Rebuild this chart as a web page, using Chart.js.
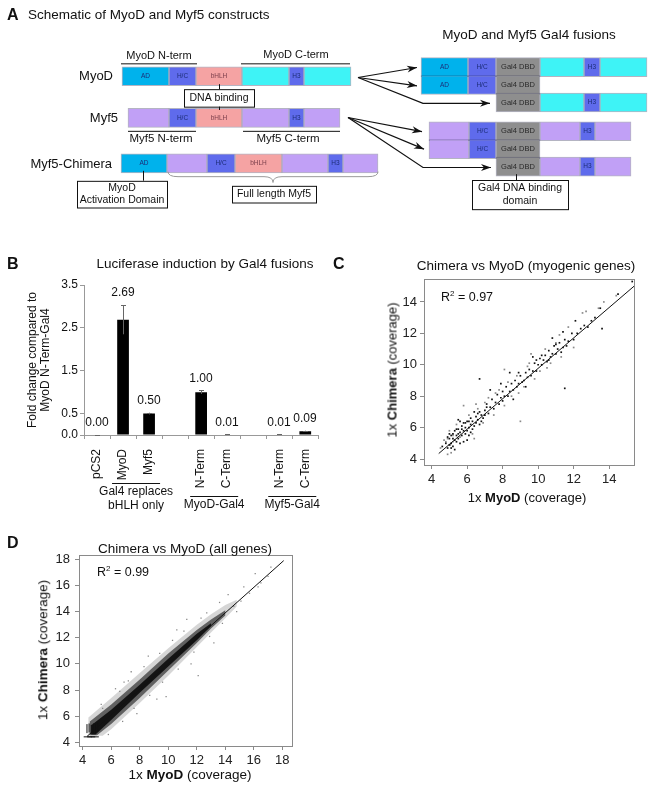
<!DOCTYPE html>
<html>
<head>
<meta charset="utf-8">
<script src="https://cdn.jsdelivr.net/npm/chart.js@4.4.1/dist/chart.umd.min.js"></script>
<style>
  body { margin: 0; background: #fff; }
  #page { position: relative; width: 653px; height: 791px; overflow: hidden;
          font-family: "Liberation Sans", Arial, sans-serif; color: #111; }
  canvas { position: absolute; }
  .t { position: absolute; white-space: nowrap; transform: translate(-50%, -50%); font-size: 13.5px; line-height: 1; }
  .rot { transform: translate(-50%, -50%) rotate(-90deg); }
  .left { position: absolute; white-space: nowrap; transform: translateY(-50%); line-height: 1; }
  .letter { font-size: 16px; font-weight: bold; }
  sup { font-size: 8px; vertical-align: 5px; }
</style>
</head>
<body>
<div id="page">
  <canvas id="schematic" width="653" height="240" style="left:0;top:0"></canvas>
  <canvas id="lucChart" width="330" height="270" style="left:0;top:250px"></canvas>
  <canvas id="myoChart" width="323" height="265" style="left:330px;top:250px"></canvas>
  <canvas id="allChart" width="330" height="261" style="left:0;top:530px"></canvas>

  <div class="left letter" style="left:7px;top:15px">A</div>
  <div class="left" style="left:28px;top:15px;font-size:13.5px">Schematic of MyoD and Myf5 constructs</div>
  <div class="t" style="left:529px;top:35px">MyoD and Myf5 Gal4 fusions</div>

  <div class="left letter" style="left:7px;top:264px">B</div>
  <div class="t" style="left:205px;top:264px">Luciferase induction by Gal4 fusions</div>

  <div class="left letter" style="left:333px;top:264px">C</div>
  <div class="t" style="left:526px;top:266px">Chimera vs MyoD (myogenic genes)</div>
  <div class="left" style="left:441px;top:297px;font-size:12.5px">R<sup>2</sup> = 0.97</div>
  <div class="t" style="left:527px;top:497px;font-size:13px">1x <b>MyoD</b> (coverage)</div>
  <div class="t rot" style="left:392px;top:370px;font-size:13px">1x <b>Chimera</b> (coverage)</div>

  <div class="left letter" style="left:7px;top:543px">D</div>
  <div class="t" style="left:185px;top:549px">Chimera vs MyoD (all genes)</div>
  <div class="left" style="left:97px;top:572px;font-size:12.5px">R<sup>2</sup> = 0.99</div>
  <div class="t" style="left:190px;top:775px">1x <b>MyoD</b> (coverage)</div>
  <div class="t rot" style="left:43px;top:650px">1x <b>Chimera</b> (coverage)</div>
</div>

<script>
/* ================= DATA ================= */

// A: construct domains, [kind, length]
const myodParts    = [["AD", 47], ["H/C", 27], ["bHLH", 46], ["myodC", 47], ["H3", 15], ["myodC", 47]];
const myf5Parts    = [["myf5", 41], ["H/C", 27], ["bHLH", 46], ["myf5", 47], ["H3", 15], ["myf5", 36]];
const chimeraParts = [["AD", 46], ["myf5", 40], ["H/C", 28], ["bHLH", 47], ["myf5", 46], ["H3", 15], ["myf5", 35]];
const myodFullGal4 = [["AD", 47], ["H/C", 28], ["Gal4", 44], ["myodC", 44], ["H3", 16], ["myodC", 47]];
const myodNGal4    = [["AD", 47], ["H/C", 28], ["Gal4", 44]];
const myodCGal4    = [["Gal4", 44], ["myodC", 44], ["H3", 16], ["myodC", 47]];
const myf5FullGal4 = [["myf5", 40], ["H/C", 27], ["Gal4", 44], ["myf5", 40], ["H3", 15], ["myf5", 36]];
const myf5NGal4    = [["myf5", 40], ["H/C", 27], ["Gal4", 44]];
const myf5CGal4    = [["Gal4", 44], ["myf5", 40], ["H3", 15], ["myf5", 36]];

// B: luciferase induction
const lucLabels = ["pCS2", "MyoD", "Myf5", "", "N-Term", "C-Term", "", "N-Term", "C-Term"];
const lucValues = [0.00, 2.69, 0.50, null, 1.00, 0.01, null, 0.01, 0.09];
const lucErrors = [0.00, 0.34, 0.02, null, 0.04, 0.005, null, 0.005, 0.01];
const lucTicks = [0, 0.5, 1.5, 2.5, 3.5];
const lucYTitle = ["Fold change compared to", "MyoD N-Term-Gal4"];
const lucGroups = [["Gal4 replaces", "bHLH only"], ["MyoD-Gal4"], ["Myf5-Gal4"]];
const lucGroupRanges = [[1, 2], [4, 5], [7, 8]];

// C: myogenic genes, coverage MyoD vs Chimera
const myoTicks = [4, 6, 8, 10, 12, 14];
const myogenicFit = [[4.4, 4.35], [15.4, 15.0]];
const myogenicDark = [
  [4.6,4.8],[4.8,5.0],[4.9,4.7],[5.0,5.3],[5.0,4.9],[5.1,5.5],[5.1,5.0],[5.2,4.8],[5.2,5.6],[5.3,5.2],
  [5.3,5.8],[5.4,5.1],[5.4,5.5],[5.5,5.9],[5.5,5.3],[5.6,5.7],[5.6,5.0],[5.7,6.1],[5.7,5.5],[5.8,5.8],
  [5.8,6.3],[5.9,5.6],[5.9,6.0],[6.0,5.8],[6.0,6.4],[6.1,6.0],[6.1,5.5],[6.2,6.2],[6.2,6.6],[6.3,5.9],
  [6.3,6.4],[6.4,6.1],[6.5,6.7],[6.5,6.3],[6.6,6.5],[6.7,7.0],[6.7,6.2],[6.8,6.8],[6.9,6.6],[7.0,7.1],
  [7.0,6.8],[5.0,5.6],[5.3,4.6],[5.6,6.4],[6.0,5.2],[4.9,5.4],[5.5,6.5],[5.8,5.1],[6.4,7.0],[6.2,5.7],
  [5.2,5.3],[5.4,5.9],[5.7,5.9],[5.9,6.3],[6.1,6.4],[5.1,4.7],[5.5,5.6],[6.6,6.9],[6.8,6.4],[7.1,7.3],
  [7.1,7.5],[7.2,6.9],[7.3,7.3],[7.4,7.8],[7.5,7.2],[7.6,7.6],[7.7,8.1],[7.8,7.5],[7.9,7.9],[8.0,8.3],
  [8.0,7.7],[8.1,8.0],[8.2,8.6],[8.3,8.0],[8.4,8.3],[8.5,8.8],[8.6,8.4],[8.7,9.0],[8.8,8.6],[8.9,8.8],
  [9.0,9.3],[9.1,8.9],[9.2,9.0],[9.3,9.5],[9.4,9.2],[9.5,9.7],[9.6,9.3],[9.7,9.6],[9.8,10.1],[9.9,9.6],
  [10.0,10.0],[10.1,10.4],[10.2,10.0],[10.3,10.3],[7.3,8.4],[7.9,8.8],[8.4,9.5],[8.6,7.8],[9.3,8.6],[9.7,10.5],
  [10.4,10.6],[10.5,10.2],[10.6,10.9],[10.7,10.5],[10.8,10.7],[10.9,11.2],[11.0,10.7],[11.1,11.0],[11.2,11.4],[11.3,10.8],
  [11.4,11.1],[11.5,11.6],[11.6,11.2],[11.7,11.5],[11.9,12.0],[12.0,11.6],[12.2,12.0],[12.4,12.3],[12.6,12.5],[12.8,12.4],
  [13.0,12.8],[13.2,13.0],[13.6,12.3],[13.5,13.6],[14.5,14.5],[15.3,15.3],[11.5,8.5],[6.7,9.1],[10.8,11.7],[11.4,12.1],
  [12.1,12.8],[10.2,10.6],[10.6,10.3],[11.0,11.3],[8.9,9.5],[9.9,10.3]
];
const myogenicGrey = [
  [4.7,5.2],[5.0,5.8],[5.2,5.1],[5.4,6.2],[5.6,5.4],[5.8,7.4],[6.1,6.8],[6.3,5.6],[6.6,7.2],[6.9,6.3],
  [7.2,7.9],[7.5,6.8],[7.8,8.4],[8.1,7.4],[8.3,8.9],[8.5,8.0],[8.8,9.3],[9.0,6.4],[9.2,8.6],[9.5,10.1],
  [9.8,9.1],[10.1,9.6],[10.4,11.0],[10.7,10.1],[11.0,11.4],[11.3,10.5],[11.7,12.4],[12.0,11.1],[12.5,13.3],[12.7,13.4],
  [13.4,13.6],[14.4,14.4],[8.1,9.7],[9.6,10.7],[7.0,7.6],[4.5,4.7],[4.9,4.3],[5.1,4.4],[6.4,5.3],[8.9,8.2],
  [4.8,5.1],[4.9,5.3],[5.05,4.9],[5.2,5.5],[6.5,7.5],[7.6,8.2],[9.4,9.9],[10.5,9.8],[11.2,11.9],[13.7,14.0]
];

// D: all genes, coverage MyoD vs Chimera
const allTicks = [4, 6, 8, 10, 12, 14, 16, 18];
const allGenesFit = [[4.3, 4.45], [18.1, 17.9]];
const allGenesHalo = [
  [4.4,5.9],[6,7.4],[8,9.3],[10,11.2],[12,13.0],[13,13.8],[14,14.5],[14.8,14.9],
  [14.8,14.4],[14,13.5],[13,12.4],[12,11.3],[10,9.1],[8,7.0],[6,5.0],[5.4,4.5],[4.4,4.5]
];
const allGenesMid = [
  [4.5,5.6],[6,6.9],[8,8.8],[10,10.8],[12,12.6],[13,13.4],[14,14.1],
  [14,13.7],[13,12.7],[12,11.6],[10,9.5],[8,7.4],[6,5.4],[5.0,4.55],[4.5,4.55]
];
const allGenesCore = [
  [4.6,5.3],[6,6.5],[8,8.4],[10,10.4],[12,12.3],[13,13.1],
  [13,12.9],[12,11.8],[10,9.8],[8,7.8],[6,5.7],[4.9,4.6],[4.6,4.6]
];
const allGenesStray = [
  [6.3,8.1],[6.9,8.6],[7.4,9.4],[8.6,10.6],[9.2,7.3],[9.85,7.5],[12.1,9.1],[11.3,13.4],[13.2,11.6],[14.2,15.3],
  [14.8,14.0],[15.3,15.9],[16.1,16.9],[16.5,16.2],[17.2,17.4],[5.3,6.9],[5.8,4.6],[7.8,6.2],[10.6,12.6],[11.6,10.0],
  [13.6,14.7],[12.7,13.9],[14.6,14.4],[15.1,14.8],[15.7,15.4],[16.3,15.9],[17.0,16.7],
  [5.4,6.6],[6.6,7.9],[7.2,8.7],[8.3,9.8],[9.4,10.8],[10.3,11.8],[11.1,12.5],[12.3,13.5],
  [6.8,5.6],[7.6,6.6],[8.7,7.6],[9.6,8.6],[10.7,9.6],[11.8,10.9],[12.9,12.1],[13.8,13.1]
];
const lowCoverageStrokes = [[4.3,5.05],[4.45,5.1],[4.6,5.0],[4.75,5.1],[4.9,5.05],[5.05,5.15]];
const lowCoverageDashes = [[4.35,4.42],[4.6,4.42],[4.85,4.42]];

/* ================= SHARED ================= */

const fontStack = '"Liberation Sans", Arial, sans-serif';
Chart.defaults.font.family = fontStack;
Chart.defaults.color = "#222";
Chart.defaults.animation = false;

const xy = arr => arr.map(([x, y]) => ({ x, y }));

/* ================= A: SCHEMATIC ================= */

const domainStyles = {
  "AD":    { bg: "#00b2ec", label: "AD", text: "#1c2d78", size: 6.5 },
  "H/C":   { bg: "#5f6bec", label: "H/C", text: "#1c2d78", size: 6.5 },
  "bHLH":  { bg: "#f5a3a3", label: "bHLH", text: "#7b3f4c", size: 6.5 },
  "H3":    { bg: "#5f6bec", label: "H3", text: "#1c2d78", size: 6.5 },
  "myodC": { bg: "#3ef3f6" },
  "myf5":  { bg: "#c1a0f6" },
  "Gal4":  { bg: "#8e8e8e", label: "Gal4 DBD", text: "#2a2a2a", size: 7.5 }
};

const rows = [
  { parts: myodParts, x0: 122, y: 67.5 },
  { parts: myf5Parts, x0: 128, y: 117.5 },
  { parts: chimeraParts, x0: 121, y: 172 },
  { parts: myodFullGal4, x0: 421, y: 56.5 },
  { parts: myodNGal4, x0: 421, y: 78 },
  { parts: myodCGal4, x0: 496, y: 99 },
  { parts: myf5FullGal4, x0: 429, y: 133.5 },
  { parts: myf5NGal4, x0: 429, y: 155 },
  { parts: myf5CGal4, x0: 496, y: 176 }
];

const segments = [];
rows.forEach(row => {
  let x = row.x0;
  row.parts.forEach(([kind, len]) => {
    segments.push({ x: [x, x + len], y: row.y, kind });
    x += len;
  });
});

function arrow(ctx, pts) {
  ctx.beginPath();
  ctx.moveTo(pts[0][0], pts[0][1]);
  for (let i = 1; i < pts.length; i++) ctx.lineTo(pts[i][0], pts[i][1]);
  ctx.stroke();
  const [x1, y1] = pts[pts.length - 2];
  const [x2, y2] = pts[pts.length - 1];
  const a = Math.atan2(y2 - y1, x2 - x1);
  const c = Math.cos(a), s = Math.sin(a);
  ctx.beginPath();
  ctx.moveTo(x2, y2);
  ctx.lineTo(x2 - 10 * c + 3.5 * s, y2 - 10 * s - 3.5 * c);
  ctx.lineTo(x2 - 7 * c, y2 - 7 * s);
  ctx.lineTo(x2 - 10 * c - 3.5 * s, y2 - 10 * s + 3.5 * c);
  ctx.closePath();
  ctx.fill();
}

function label(ctx, text, x, y, size, align) {
  ctx.font = size + "px " + fontStack;
  ctx.textAlign = align || "center";
  ctx.textBaseline = "middle";
  ctx.fillStyle = "#111";
  ctx.fillText(text, x, y);
}

function hline(ctx, x1, x2, y) {
  ctx.beginPath();
  ctx.moveTo(x1, y + 0.5);
  ctx.lineTo(x2, y + 0.5);
  ctx.stroke();
}

function vline(ctx, x, y1, y2) {
  ctx.beginPath();
  ctx.moveTo(x + 0.5, y1);
  ctx.lineTo(x + 0.5, y2);
  ctx.stroke();
}

function textBox(ctx, x1, y1, x2, y2, lines, size) {
  ctx.fillStyle = "#fff";
  ctx.fillRect(x1, y1, x2 - x1, y2 - y1);
  ctx.strokeRect(x1 + 0.5, y1 + 0.5, x2 - x1, y2 - y1);
  const cy = (y1 + y2) / 2;
  const lh = size + 2;
  lines.forEach((t, i) => label(ctx, t, (x1 + x2) / 2, cy + (i - (lines.length - 1) / 2) * lh, size));
}

const schematicExtras = {
  id: "schematicExtras",
  afterDatasetsDraw(chart) {
    const { ctx } = chart;
    const meta = chart.getDatasetMeta(0);
    const sx = v => chart.scales.x.getPixelForValue(v);
    const sy = v => chart.scales.y.getPixelForValue(v);
    ctx.save();

    // domain names inside the bars
    meta.data.forEach((bar, i) => {
      const st = domainStyles[segments[i].kind];
      if (!st.label) return;
      const p = bar.getProps(["x", "base", "y"], true);
      ctx.font = st.size + "px " + fontStack;
      ctx.textAlign = "center";
      ctx.textBaseline = "middle";
      ctx.fillStyle = st.text;
      ctx.fillText(st.label, (p.x + p.base) / 2, p.y);
    });

    // construct names
    label(ctx, "MyoD", sx(113), sy(68), 13, "right");
    label(ctx, "Myf5", sx(118), sy(118), 13, "right");
    label(ctx, "Myf5-Chimera", sx(112), sy(173), 13, "right");

    ctx.strokeStyle = "#111";
    ctx.lineWidth = 1;

    // N-term / C-term brackets
    label(ctx, "MyoD N-term", sx(159), sy(43), 11);
    hline(ctx, sx(121), sx(197), sy(52));
    label(ctx, "MyoD C-term", sx(296), sy(42), 11);
    hline(ctx, sx(241), sx(350), sy(52));
    label(ctx, "Myf5 N-term", sx(161), sy(142), 11.5);
    hline(ctx, sx(128), sx(196), sy(133));
    label(ctx, "Myf5 C-term", sx(288), sy(142), 11.5);
    hline(ctx, sx(243), sx(340), sy(133));

    // DNA binding callout
    vline(ctx, sx(219), sy(77), sy(108));
    textBox(ctx, sx(184), sy(83), sx(254), sy(104), ["DNA binding"], 10.5);

    // activation domain callout
    vline(ctx, sx(143), sy(181), sy(193));
    textBox(ctx, sx(77), sy(193), sx(167), sy(225), ["MyoD", "Activation Domain"], 10.5);

    // brace under full length Myf5
    ctx.strokeStyle = "#999";
    ctx.beginPath();
    ctx.moveTo(sx(168), sy(182));
    ctx.quadraticCurveTo(sx(168), sy(188), sx(178), sy(188));
    ctx.lineTo(sx(264), sy(188));
    ctx.quadraticCurveTo(sx(273), sy(188), sx(273), sy(195));
    ctx.quadraticCurveTo(sx(273), sy(188), sx(282), sy(188));
    ctx.lineTo(sx(368), sy(188));
    ctx.quadraticCurveTo(sx(378), sy(188), sx(378), sy(182));
    ctx.stroke();
    ctx.strokeStyle = "#111";
    textBox(ctx, sx(232), sy(199), sx(316), sy(219), ["Full length Myf5"], 10.5);

    // Gal4 DNA binding domain callout
    vline(ctx, sx(516), sy(185), sy(192));
    textBox(ctx, sx(472), sy(192), sx(568), sy(227), ["Gal4 DNA binding", "domain"], 10.5);

    // arrows to the fusions
    ctx.fillStyle = "#111";
    ctx.lineWidth = 1.2;
    arrow(ctx, [[sx(358), sy(69)], [sx(417), sy(57)]]);
    arrow(ctx, [[sx(358), sy(69)], [sx(417), sy(79)]]);
    arrow(ctx, [[sx(358), sy(69)], [sx(423), sy(100)], [sx(490), sy(100)]]);
    arrow(ctx, [[sx(348), sy(117)], [sx(422), sy(134)]]);
    arrow(ctx, [[sx(348), sy(117)], [sx(424), sy(155)]]);
    arrow(ctx, [[sx(348), sy(117)], [sx(423), sy(177)], [sx(491), sy(177)]]);

    ctx.restore();
  }
};

new Chart(document.getElementById("schematic"), {
  type: "bar",
  data: {
    datasets: [{
      data: segments,
      backgroundColor: segments.map(s => domainStyles[s.kind].bg),
      borderColor: "rgba(40,40,80,0.35)",
      borderWidth: 1,
      borderSkipped: false,
      barThickness: 19
    }]
  },
  options: {
    indexAxis: "y",
    responsive: false,
    events: [],
    layout: { padding: 0, autoPadding: false },
    plugins: { legend: { display: false }, tooltip: { enabled: false } },
    scales: {
      x: { type: "linear", min: 0, max: 653, display: false },
      y: { type: "linear", min: 0, max: 240, reverse: true, display: false }
    }
  },
  plugins: [schematicExtras]
});

/* ================= B: LUCIFERASE ================= */

const lucExtras = {
  id: "lucExtras",
  afterDatasetsDraw(chart) {
    const { ctx, chartArea } = chart;
    const x = chart.scales.x, y = chart.scales.y;
    const meta = chart.getDatasetMeta(0);
    ctx.save();
    lucValues.forEach((v, i) => {
      if (v === null) return;
      const px = Math.round(meta.data[i].x);
      const top = y.getPixelForValue(v + lucErrors[i]);
      const bot = y.getPixelForValue(Math.max(0, v - lucErrors[i]));
      ctx.strokeStyle = "#666";
      ctx.lineWidth = 1;
      ctx.beginPath();
      ctx.moveTo(px + 0.5, top);
      ctx.lineTo(px + 0.5, bot);
      ctx.moveTo(px - 2, Math.round(top) + 0.5);
      ctx.lineTo(px + 3, Math.round(top) + 0.5);
      ctx.stroke();
      label(ctx, v.toFixed(2), px, top - 12, 12);
    });

    // group brackets under the category labels
    ctx.strokeStyle = "#111";
    ctx.lineWidth = 1;
    lucGroupRanges.forEach(([a, b], g) => {
      const x1 = x.getPixelForValue(a) - 11;
      const x2 = x.getPixelForValue(b) + 11;
      const ly = chartArea.bottom + (g === 0 ? 48 : 61);
      hline(ctx, x1, x2, ly);
      lucGroups[g].forEach((t, k) => label(ctx, t, (x1 + x2) / 2, ly + 9 + k * 14, 12));
    });
    ctx.restore();
  }
};

new Chart(document.getElementById("lucChart"), {
  type: "bar",
  data: {
    labels: lucLabels,
    datasets: [{
      data: lucValues,
      backgroundColor: "#000",
      categoryPercentage: 1,
      barPercentage: 0.45
    }]
  },
  options: {
    responsive: false,
    events: [],
    layout: { autoPadding: false, padding: { left: 0, top: 35, right: 6, bottom: 0 } },
    plugins: { legend: { display: false }, tooltip: { enabled: false } },
    scales: {
      x: {
        grid: { drawOnChartArea: false, tickLength: 4, color: "#999", offset: true },
        border: { color: "#999" },
        ticks: { minRotation: 90, maxRotation: 90, autoSkip: false, font: { size: 12 }, color: "#111", padding: 10 },
        afterFit: s => { s.height = 85; }
      },
      y: {
        min: 0,
        max: 3.5,
        afterBuildTicks: s => { s.ticks = lucTicks.map(v => ({ value: v })); },
        grid: { drawOnChartArea: false, tickLength: 4, color: "#999" },
        border: { color: "#999" },
        ticks: { callback: v => v.toFixed(1), font: { size: 12 }, color: "#111", padding: 2 },
        title: {
          display: true,
          text: lucYTitle,
          font: { size: 12, lineHeight: 1.1 },
          color: "#111",
          padding: { top: 26, bottom: 0 }
        },
        afterFit: s => { s.width = 84; }
      }
    }
  },
  plugins: [lucExtras]
});

/* ================= C + D: COVERAGE SCATTERS ================= */

const frame = {
  id: "frame",
  afterDraw(chart) {
    const { ctx, chartArea: a } = chart;
    ctx.save();
    ctx.strokeStyle = "#8a8a8a";
    ctx.lineWidth = 1;
    ctx.strokeRect(Math.round(a.left) + 0.5, Math.round(a.top) + 0.5,
      Math.round(a.right - a.left), Math.round(a.bottom - a.top));
    ctx.restore();
  }
};

function coverageAxis(min, max, ticks, isX, size, pad) {
  return {
    type: "linear",
    min,
    max,
    afterBuildTicks: s => { s.ticks = ticks.map(v => ({ value: v })); },
    grid: { drawOnChartArea: false, tickLength: 4, color: "#8a8a8a" },
    border: { display: false },
    ticks: { font: { size: 13 }, color: "#222", padding: pad },
    afterFit: s => { if (isX) s.height = size; else s.width = size; }
  };
}

function coverageOptions(xr, yr, ticks, yWidth, xHeight, top, right, yPad) {
  return {
    responsive: false,
    events: [],
    layout: { autoPadding: false, padding: { left: 0, top, right, bottom: 0 } },
    plugins: { legend: { display: false }, tooltip: { enabled: false } },
    scales: {
      x: coverageAxis(xr[0], xr[1], ticks, true, xHeight, 3),
      y: coverageAxis(yr[0], yr[1], ticks, false, yWidth, yPad)
    }
  };
}

const fitLine = data => ({
  type: "line", data: xy(data), borderColor: "#111", borderWidth: 1,
  pointRadius: 0, fill: false, tension: 0
});
const dots = (data, color, r) => ({
  type: "scatter", data: xy(data), pointStyle: "rect", pointRadius: r,
  backgroundColor: color, borderWidth: 0
});
const band = (data, color) => ({
  type: "line", data: xy(data), fill: "shape", backgroundColor: color,
  borderWidth: 0, borderColor: "rgba(0,0,0,0)", pointRadius: 0, tension: 0
});

new Chart(document.getElementById("myoChart"), {
  type: "scatter",
  data: {
    datasets: [
      fitLine(myogenicFit),
      dots(myogenicDark, "#111", 1.2),
      dots(myogenicGrey, "#8a8a8a", 1.2)
    ]
  },
  options: coverageOptions([3.57, 15.4], [3.62, 15.46], myoTicks, 94, 50, 29, 19, 3),
  plugins: [frame]
});

new Chart(document.getElementById("allChart"), {
  type: "scatter",
  data: {
    datasets: [
      fitLine(allGenesFit),
      {
        type: "scatter", data: xy(lowCoverageStrokes), pointStyle: "line", rotation: 90,
        pointRadius: 4.5, borderColor: "#111", borderWidth: 1
      },
      {
        type: "scatter", data: xy(lowCoverageDashes), pointStyle: "line", rotation: 0,
        pointRadius: 4, borderColor: "#111", borderWidth: 1
      },
      dots(allGenesStray, "#888", 0.9),
      band(allGenesCore, "rgba(0,0,0,0.8)"),
      band(allGenesMid, "rgba(0,0,0,0.55)"),
      band(allGenesHalo, "rgba(0,0,0,0.16)")
    ]
  },
  options: coverageOptions([3.74, 18.68], [3.72, 18.33], allTicks, 79, 45, 25, 38, 5),
  plugins: [frame]
});
</script>
</body>
</html>
